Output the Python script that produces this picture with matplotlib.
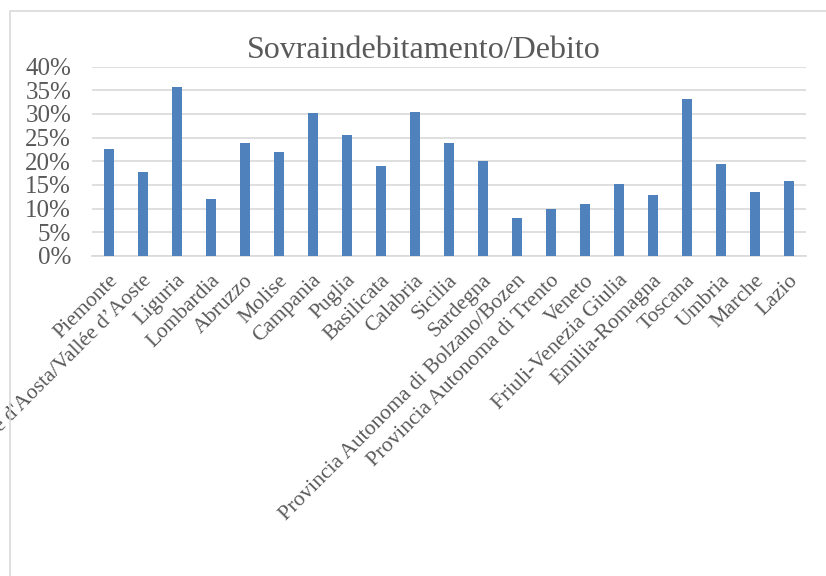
import matplotlib.pyplot as plt
import matplotlib.patches as patches
import matplotlib.transforms as mtransforms
import numpy as np
from matplotlib.ticker import PercentFormatter

regioni = [
    "Piemonte", "Valle d'Aosta/Vallée d\u2019Aoste", "Liguria", "Lombardia",
    "Abruzzo", "Molise", "Campania", "Puglia", "Basilicata", "Calabria",
    "Sicilia", "Sardegna", "Provincia Autonoma di Bolzano/Bozen",
    "Provincia Autonoma di Trento", "Veneto", "Friuli-Venezia Giulia",
    "Emilia-Romagna", "Toscana", "Umbria", "Marche", "Lazio",
]
sovraindebitamento = [
    0.225, 0.177, 0.357, 0.120, 0.238, 0.220, 0.301, 0.255, 0.190, 0.305,
    0.238, 0.201, 0.080, 0.100, 0.110, 0.152, 0.129, 0.331, 0.194, 0.135, 0.159,
]
titolo = "Sovraindebitamento/Debito"

plt.rcParams['font.family'] = ['Liberation Serif', 'DejaVu Serif']
grigio = '#595959'

fig = plt.figure(figsize=(8.26, 5.76), dpi=100)
ax = fig.add_axes([92/826, 1 - 256/576, (806 - 92)/826, (256 - 66.5)/576])

# bordo dell'area del grafico (tagliato a destra e in basso)
fig.patches.append(patches.Rectangle((10/826, -0.1), 1.0, 1 - 11/576 + 0.1,
                                     transform=fig.transFigure, fill=False,
                                     edgecolor='#D9D9D9', linewidth=1.2))

x = np.arange(len(regioni))
ax.bar(x, sovraindebitamento, width=0.32, color='#4F81BD', zorder=3)

ax.set_xlim(-0.5, len(regioni) - 0.5)
ax.set_ylim(0, 0.4)
ax.set_yticks(np.arange(0, 0.41, 0.05))
ax.yaxis.set_major_formatter(PercentFormatter(1.0, decimals=0))
ax.grid(axis='y', color='#D9D9D9', linewidth=1.2, zorder=0)

for s in ['top', 'right', 'left']:
    ax.spines[s].set_visible(False)
ax.spines['bottom'].set_color('#D9D9D9')
ax.spines['bottom'].set_linewidth(1.2)

ax.tick_params(axis='both', length=0, colors=grigio)
ax.tick_params(axis='y', pad=15, labelsize=18)
ax.tick_params(axis='x', pad=0, labelsize=15.6)
ax.set_xticks(x)
ax.set_xticklabels(regioni, rotation=45, ha='right', va='top',
                   rotation_mode='anchor')
# angolo in alto a destra dell'etichetta vicino alla barra, come in Excel
offset = mtransforms.ScaledTranslation(-1/100, -15/100, fig.dpi_scale_trans)
for lab in ax.get_xticklabels():
    lab.set_transform(lab.get_transform() + offset)

fig.text(424/826, 1 - 51/576, titolo, ha='center', va='center',
         fontsize=23, color=grigio)

fig.savefig('out.png', dpi=100)
